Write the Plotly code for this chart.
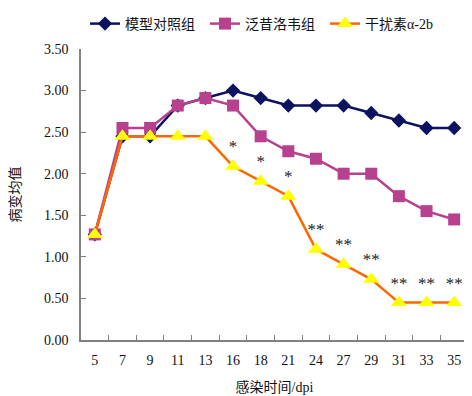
import plotly.graph_objects as go

days = ["5", "7", "9", "11", "13", "16", "18", "21", "24", "27", "29", "31", "33", "35"]
model = [1.27, 2.45, 2.45, 2.82, 2.91, 3.00, 2.91, 2.82, 2.82, 2.82, 2.73, 2.64, 2.55, 2.55]
famciclovir = [1.27, 2.55, 2.55, 2.82, 2.91, 2.82, 2.45, 2.27, 2.18, 2.00, 2.00, 1.73, 1.55, 1.45]
interferon = [1.27, 2.45, 2.45, 2.45, 2.45, 2.09, 1.91, 1.73, 1.09, 0.91, 0.73, 0.45, 0.45, 0.45]
signif = ["", "", "", "", "", "*", "*", "*", "**", "**", "**", "**", "**", "**"]
names = ["模型对照组", "泛昔洛韦组", "干扰素α-2b"]
yticks = [0, 0.5, 1.0, 1.5, 2.0, 2.5, 3.0, 3.5]

FONT = "Liberation Serif, Times New Roman, Noto Sans CJK SC"

fig = go.Figure()
fig.add_trace(go.Scatter(
    x=days, y=model, name=names[0], mode="lines+markers",
    line=dict(color="#0B1260", width=2.5),
    marker=dict(symbol="diamond", size=11, color="#0B1260"),
))
fig.add_trace(go.Scatter(
    x=days, y=famciclovir, name=names[1], mode="lines+markers",
    line=dict(color="#B8418F", width=2.5),
    marker=dict(symbol="square", size=12, color="#B8418F"),
))
fig.add_trace(go.Scatter(
    x=days, y=interferon, name=names[2], mode="lines+markers+text",
    line=dict(color="#FF6600", width=2.5),
    marker=dict(symbol="triangle-up", size=14, color="#FFFF00"),
    text=signif, textposition="top center",
    textfont=dict(family=FONT, size=17, color="#222222"),
))

# page body has an 8px margin, so the figure is drawn at (8, 8)
fig.update_layout(
    width=464, height=388,
    margin=dict(l=73, r=4, t=41, b=56, autoexpand=False),
    plot_bgcolor="white", paper_bgcolor="white",
    font=dict(family=FONT, size=14, color="#111111"),
    showlegend=True,
    legend=dict(
        orientation="h", xref="container", yref="container",
        x=0.166, y=1.0, xanchor="left", yanchor="top",
        entrywidth=75, entrywidthmode="pixels",
        font=dict(family=FONT, size=14, color="#111111"),
        itemwidth=30, tracegroupgap=0,
    ),
    xaxis=dict(
        type="category", range=[-0.5, 13.5],
        showline=True, linecolor="#808080", linewidth=1.5,
        ticks="inside", tickson="boundaries", ticklen=5, tickcolor="#808080",
        showgrid=False, zeroline=False,
        tickfont=dict(family=FONT, size=14),
        ticklabelstandoff=6,
        title=dict(text="感染时间/dpi", font=dict(family=FONT, size=14), standoff=16),
    ),
    yaxis=dict(
        range=[0, 3.5], tickvals=yticks, tickformat=".2f",
        showline=True, linecolor="#808080", linewidth=1.5,
        ticks="inside", ticklen=5, tickcolor="#808080",
        showgrid=False, zeroline=False,
        tickfont=dict(family=FONT, size=14),
        ticklabelstandoff=8,
        title=dict(text="病变均值", font=dict(family=FONT, size=14), standoff=24),
    ),
)

fig.write_html("out.html")
